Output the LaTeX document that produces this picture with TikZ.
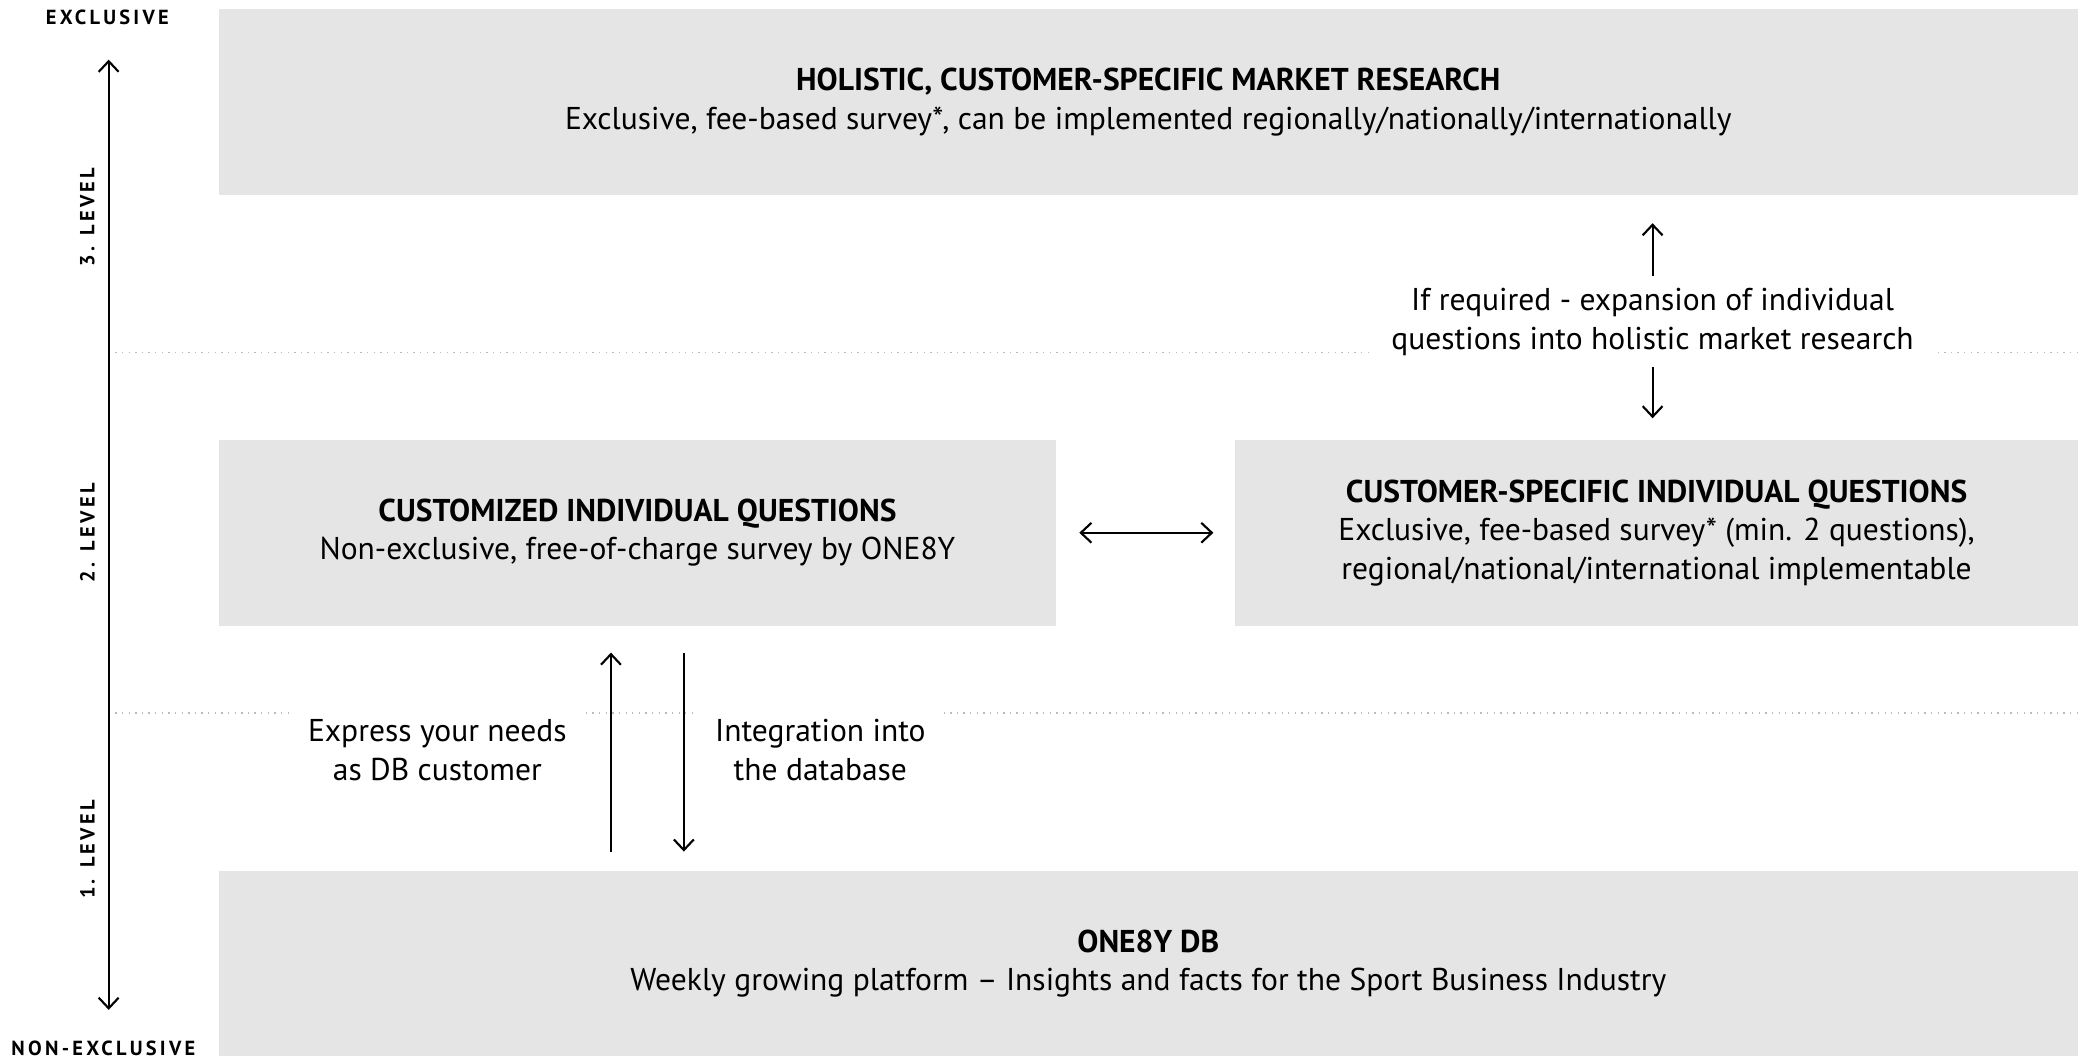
\documentclass[tikz,border=0pt]{standalone}
\usepackage{fontspec}
\setmainfont{PT Sans}
\newfontfamily\spacedfont[LetterSpace=16]{PT Sans}
\usetikzlibrary{arrows.meta}
\definecolor{boxgray}{HTML}{E5E5E5}
\definecolor{dotgray}{HTML}{BBBBBB}
\begin{document}
\begin{tikzpicture}[x=0.5pt,y=-0.5pt,
  box/.style={fill=boxgray, draw=none, align=center, inner sep=0pt,
    font=\fontsize{11.9}{14.5}\selectfont},
  lbl/.style={fill=white, align=center, inner xsep=7pt, inner ysep=7pt,
    font=\fontsize{11.9}{14.5}\selectfont},
  arr/.style={line width=0.8pt, -{Straight Barb[length=4pt,width=7.5pt,line width=0.8pt]}},
  darr/.style={line width=0.8pt, {Straight Barb[length=4pt,width=7.5pt,line width=0.8pt]}-{Straight Barb[length=4pt,width=7.5pt,line width=0.8pt]}},
  dotline/.style={dotgray, line width=0.5pt, dotted},
  lev/.style={font=\spacedfont\bfseries\fontsize{7.7}{9}\selectfont},
]
\useasboundingbox (0,0) rectangle (1568,799);

% dotted level separators
\draw[dotline] (82,266) -- (1568,266);
\draw[dotline] (82,538) -- (1568,538);

% boxes
\node[box, minimum width=701.5pt, minimum height=70pt] (holistic) at (866.5,77)
  {\textbf{HOLISTIC, CUSTOMER-SPECIFIC MARKET RESEARCH}\\
   Exclusive, fee-based survey*, can be implemented regionally/nationally/internationally};
\node[box, minimum width=316pt, minimum height=70pt] (cust) at (481,402)
  {\textbf{CUSTOMIZED INDIVIDUAL QUESTIONS}\\
   Non-exclusive, free-of-charge survey by ONE8Y};
\node[box, minimum width=318pt, minimum height=70pt] (spec) at (1250,402)
  {\textbf{CUSTOMER-SPECIFIC INDIVIDUAL QUESTIONS}\\
   Exclusive, fee-based survey* (min. 2 questions),\\
   regional/national/international implementable};
\node[box, minimum width=701.5pt, minimum height=70pt] (db) at (866.5,727)
  {\textbf{ONE8Y DB}\\
   Weekly growing platform -- Insights and facts for the Sport Business Industry};

% labels
\node[lbl] (req) at (1247,243)
  {If required - expansion of individual\\questions into holistic market research};
\node[lbl] (needs) at (330,566) {Express your needs\\as DB customer};
\node[lbl] (integ) at (619,566) {Integration into\\the database};

% axis
\node[lev] (excl) at (81,13) {EXCLUSIVE};
\node[lev] (nonexcl) at (78,791) {NON-EXCLUSIVE};
\coordinate (axtop) at (82,45);
\coordinate (axbot) at (82,762);
\draw[darr] (axbot) -- (axtop);
\node[lev, rotate=90] (l3) at (66,164) {3. LEVEL};
\node[lev, rotate=90] (l2) at (66,402) {2. LEVEL};
\node[lev, rotate=90] (l1) at (66,641) {1. LEVEL};

% connectors
\draw[darr] ([xshift=8.5pt]cust.east) -- ([xshift=-8pt]spec.west);
\coordinate (upS) at (1247,208);
\coordinate (dnS) at (1247,277);
\draw[arr] (upS) -- ([yshift=-10.5pt]holistic.south -| upS);
\draw[arr] (dnS) -- ([yshift=8pt]spec.north -| dnS);
\coordinate (uA) at (461,643);
\coordinate (dA) at (516,493);
\draw[arr] (uA) -- ([yshift=-10pt]cust.south -| uA);
\draw[arr] (dA) -- ([yshift=7pt]db.north -| dA);
\end{tikzpicture}
\end{document}
